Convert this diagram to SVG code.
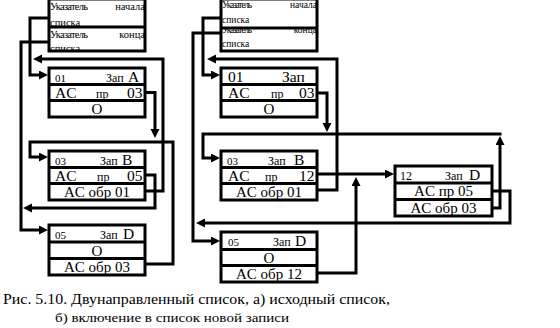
<svg xmlns="http://www.w3.org/2000/svg" width="560" height="328" viewBox="0 0 560 328">
<defs>
<marker id="ah" markerUnits="userSpaceOnUse" markerWidth="10" markerHeight="10" refX="1" refY="4.5" orient="auto">
<path d="M0,0 L9,4.5 L0,9 z" fill="#000"/>
</marker>
<clipPath id="cl1"><rect x="49" y="0" width="96" height="26"/></clipPath>
<clipPath id="cl2"><rect x="49" y="28" width="96" height="22"/></clipPath>
<clipPath id="cr1"><rect x="221" y="0" width="96" height="27"/></clipPath>
<clipPath id="cr2"><rect x="221" y="29" width="96" height="21"/></clipPath>
<style>
.box{fill:none;stroke:#000;stroke-width:3}
.c{fill:none;stroke:#000;stroke-width:3}
.a{marker-end:url(#ah)}
text{font-family:"Liberation Serif","Times New Roman",serif;fill:#000}
.h{font-size:10.5px}
.hr{font-size:9.5px}
.s{font-size:11px}
.m{font-size:12px}
.L{font-size:15.5px}
.ctr{text-anchor:middle;font-size:15px}
.cap1{font-size:15px}
.cap2{font-size:13px}
</style>
</defs>
<rect width="560" height="328" fill="#fff"/>

<!-- Left header -->
<g id="hdrL">
<g clip-path="url(#cl1)">
<text class="h" x="50" y="10" textLength="38">Указатель</text>
<text class="h" x="145" y="10" text-anchor="end">начала</text>
<text class="h" x="50" y="25.5">списка</text>
</g>
<g clip-path="url(#cl2)">
<text class="h" x="50" y="38" textLength="38">Указатель</text>
<text class="h" x="145" y="38" text-anchor="end">конца</text>
<text class="h" x="50" y="51.5">списка</text>
</g>
<rect class="box" x="49" y="-1" width="96" height="52"/>
<line class="box" x1="49" y1="27" x2="145" y2="27"/>
</g>

<!-- Left A -->
<g id="recA">
<rect class="box" x="49" y="68" width="96" height="49"/>
<line class="box" x1="49" y1="84.5" x2="145" y2="84.5"/>
<line class="box" x1="49" y1="100.5" x2="145" y2="100.5"/>
<text class="s" x="55" y="82">01</text>
<text class="m" x="106" y="82">Зап</text>
<text class="L" x="128" y="82">A</text>
<text class="L" x="55" y="98">AC</text>
<text class="m" x="96" y="98">пр</text>
<text class="L" x="127" y="98">03</text>
<text class="ctr" x="97" y="114">O</text>
</g>

<!-- Left B -->
<g id="recB">
<rect class="box" x="49" y="151" width="96" height="49"/>
<line class="box" x1="49" y1="167.5" x2="145" y2="167.5"/>
<line class="box" x1="49" y1="183.5" x2="145" y2="183.5"/>
<text class="s" x="55" y="165">03</text>
<text class="m" x="100" y="165">Зап</text>
<text class="L" x="122" y="165">B</text>
<text class="L" x="55" y="181">AC</text>
<text class="m" x="97" y="181">пр</text>
<text class="L" x="127" y="181">05</text>
<text class="ctr" x="97" y="197">AC обр 01</text>
</g>

<!-- Left D -->
<g id="recD">
<rect class="box" x="49" y="225" width="96" height="50"/>
<line class="box" x1="49" y1="242" x2="145" y2="242"/>
<line class="box" x1="49" y1="258.5" x2="145" y2="258.5"/>
<text class="s" x="55" y="239">05</text>
<text class="m" x="100" y="239">Зап</text>
<text class="L" x="123" y="239">D</text>
<text class="ctr" x="97" y="256">O</text>
<text class="ctr" x="97" y="272">AC обр 03</text>
</g>

<!-- Right header -->
<g id="hdrR">
<g clip-path="url(#cr1)">
<text class="hr" x="222" y="8" textLength="30">Указатель</text>
<text class="hr" x="317" y="8" text-anchor="end">начала</text>
<text class="hr" x="222" y="23">списка</text>
</g>
<g clip-path="url(#cr2)">
<text class="hr" x="222" y="33" textLength="30">Указатель</text>
<text class="hr" x="317" y="33" text-anchor="end">конца</text>
<text class="hr" x="222" y="47">списка</text>
</g>
<rect class="box" x="221" y="-1" width="96" height="52"/>
<line class="box" x1="221" y1="28" x2="317" y2="28"/>
</g>

<!-- Right A -->
<g id="recA2">
<rect class="box" x="221" y="68" width="96" height="49"/>
<line class="box" x1="221" y1="84.5" x2="317" y2="84.5"/>
<line class="box" x1="221" y1="100.5" x2="317" y2="100.5"/>
<text class="L" x="228" y="82">01</text>
<text class="L" x="282" y="82">Зап</text>
<text class="L" x="228" y="98">AC</text>
<text class="m" x="271" y="98">пр</text>
<text class="L" x="299" y="98">03</text>
<text class="ctr" x="269" y="114">O</text>
</g>

<!-- Right B -->
<g id="recB2">
<rect class="box" x="221" y="151" width="96" height="49"/>
<line class="box" x1="221" y1="167.5" x2="317" y2="167.5"/>
<line class="box" x1="221" y1="183.5" x2="317" y2="183.5"/>
<text class="s" x="227" y="165">03</text>
<text class="m" x="268" y="165">Зап</text>
<text class="L" x="294" y="165">B</text>
<text class="L" x="228" y="181">AC</text>
<text class="m" x="265" y="181">пр</text>
<text class="L" x="299" y="181">12</text>
<text class="ctr" x="269" y="197">AC обр 01</text>
</g>

<!-- Right D -->
<g id="recD2">
<rect class="box" x="221" y="232" width="96" height="50"/>
<line class="box" x1="221" y1="249.5" x2="317" y2="249.5"/>
<line class="box" x1="221" y1="265.5" x2="317" y2="265.5"/>
<text class="s" x="228" y="246">05</text>
<text class="m" x="273" y="246">Зап</text>
<text class="L" x="295" y="246">D</text>
<text class="ctr" x="269" y="263">O</text>
<text class="ctr" x="269" y="279">AC обр 12</text>
</g>

<!-- New record D (12) -->
<g id="recNew">
<rect class="box" x="395" y="166" width="97" height="50"/>
<line class="box" x1="395" y1="183" x2="492" y2="183"/>
<line class="box" x1="395" y1="199.5" x2="492" y2="199.5"/>
<text class="m" x="400" y="180">12</text>
<text class="m" x="445" y="180">Зап</text>
<text class="L" x="469" y="180">D</text>
<text class="ctr" x="443.5" y="196">AC пр 05</text>
<text class="ctr" x="443.5" y="213">AC обр 03</text>
</g>

<g id="connectors">
<!-- left -->
<path class="c a" d="M49,18 H30 V75 H40"/>
<path class="c a" d="M49,42 H21 V230 H40"/>
<path class="c a" d="M145,92.5 H155 V130"/>
<path class="c a" d="M145,191 H163 V59 H41"/>
<path class="c a" d="M145,264 H173 V142 H30 V157 H40"/>
<path class="c a" d="M145,175 H155 V208 H31"/>
<!-- right -->
<path class="c a" d="M221,18 H203 V75 H212"/>
<path class="c a" d="M221,33 H193 V241 H212"/>
<path class="c a" d="M317,93 H327 V124"/>
<path class="c a" d="M317,190 H337 V59 H215"/>
<path class="c a" d="M492,208 H500 V144"/>
<path class="c a" d="M501.5,134 H203 V158 H212"/>
<path class="c a" d="M317,174 H386"/>
<path class="c a" d="M317,273 H356 V185"/>
<path class="c a" d="M492,191 H510 V223 H204"/>
</g>

<g id="caption">
<text class="cap1" x="3" y="304" textLength="387" lengthAdjust="spacingAndGlyphs">Рис. 5.10. Двунаправленный список, а) исходный список,</text>
<text class="cap2" x="55" y="322" textLength="234" lengthAdjust="spacingAndGlyphs">б) включение в список новой записи</text>
</g>
</svg>
